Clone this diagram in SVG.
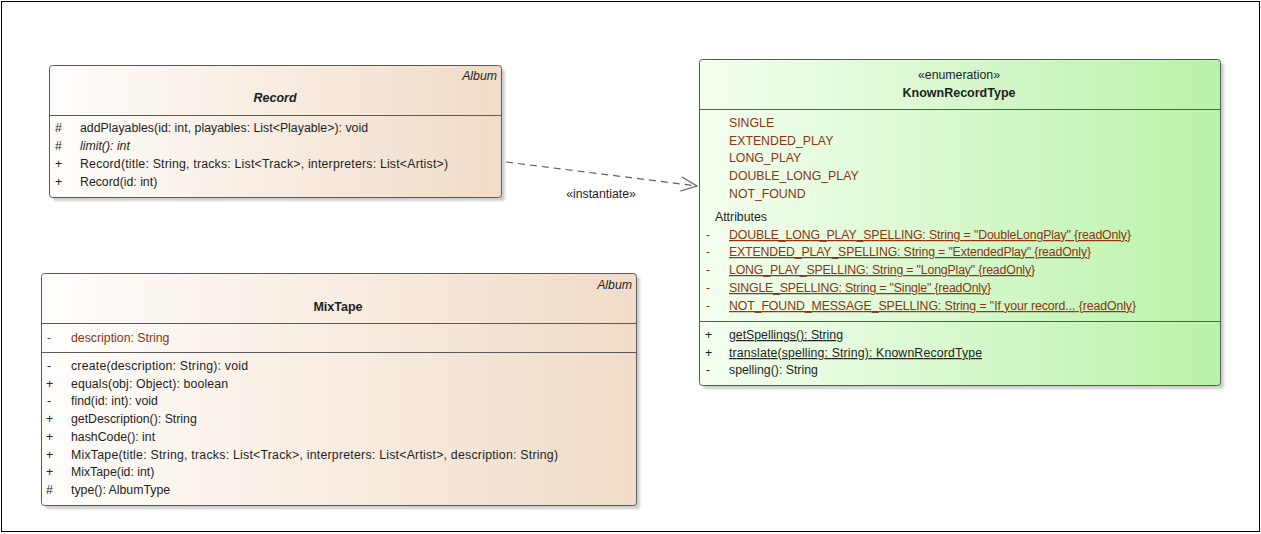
<svg xmlns="http://www.w3.org/2000/svg" width="1261" height="534" viewBox="0 0 1261 534">
  <defs>
    <linearGradient id="albumFill" x1="0" y1="0" x2="1" y2="0">
      <stop offset="0" stop-color="#fffdfb"/>
      <stop offset="1" stop-color="#f0dcc8"/>
    </linearGradient>
    <linearGradient id="enumFill" x1="0" y1="0" x2="1" y2="0">
      <stop offset="0" stop-color="#f4fff0"/>
      <stop offset="1" stop-color="#b9f2a9"/>
    </linearGradient>
    <filter id="soft" x="-5%" y="-5%" width="110%" height="110%">
      <feGaussianBlur stdDeviation="1"/>
    </filter>
    <marker id="openArrow" markerWidth="20" markerHeight="16" refX="18" refY="8" orient="auto" markerUnits="userSpaceOnUse">
      <path d="M2,1 L18,8 L2,15" fill="none" stroke="#606060" stroke-width="1.2"/>
    </marker>
  </defs>
  <style>
    text { font-family: "Liberation Sans", Arial, sans-serif; font-size: 12.3px; fill: #1e1e1e; }
    .shadow { fill: #a8a8a8; opacity: 0.55; filter: url(#soft); }
    .box { stroke: #5a5a5a; stroke-width: 1; }
    .sep { stroke: #5a5a5a; stroke-width: 1; }
    .attr { fill: #8a3510; }
    .static { text-decoration: underline; }
    .title { font-weight: bold; font-size: 12.5px; }
    .ital { font-style: italic; }
    .mid { text-anchor: middle; }
    .end { text-anchor: end; }
    .edge { stroke: #606060; stroke-width: 1.2; stroke-dasharray: 7 5; fill: none; }
  </style>

  <rect x="1.5" y="1.5" width="1258" height="530" fill="#ffffff" stroke="#000000" stroke-width="1"/>

  <!-- connectors -->
  <g id="connectors">
    <line class="edge" x1="506" y1="162" x2="697" y2="186" marker-end="url(#openArrow)"/>
    <text class="mid" x="601" y="198">«instantiate»</text>
  </g>

  <!-- Record -->
  <g id="Record">
    <rect class="shadow" x="53" y="69" width="452" height="132" rx="3"/>
    <rect class="box" x="49.5" y="65.5" width="452" height="132" rx="3" fill="url(#albumFill)"/>
    <line class="sep" x1="49.5" y1="115.5" x2="501.5" y2="115.5"/>
    <text class="ital end" x="497" y="80">Album</text>
    <text class="title ital mid" x="275" y="102">Record</text>
    <text x="55" y="132">#</text><text x="80" y="132" textLength="288" lengthAdjust="spacing">addPlayables(id: int, playables: List&lt;Playable&gt;): void</text>
    <text x="55" y="150">#</text><text class="ital" x="80" y="150">limit(): int</text>
    <text x="55" y="168">+</text><text x="80" y="168" textLength="368" lengthAdjust="spacing">Record(title: String, tracks: List&lt;Track&gt;, interpreters: List&lt;Artist&gt;)</text>
    <text x="55" y="186">+</text><text x="80" y="186">Record(id: int)</text>
  </g>

  <!-- MixTape -->
  <g id="MixTape">
    <rect class="shadow" x="45" y="277" width="595" height="232" rx="3"/>
    <rect class="box" x="41.5" y="273.5" width="595" height="232" rx="3" fill="url(#albumFill)"/>
    <line class="sep" x1="41.5" y1="323.5" x2="636.5" y2="323.5"/>
    <line class="sep" x1="41.5" y1="352.5" x2="636.5" y2="352.5"/>
    <text class="ital end" x="632" y="289">Album</text>
    <text class="title mid" x="338" y="311">MixTape</text>
    <text class="attr" x="47" y="342">-</text><text class="attr" x="71" y="342">description: String</text>
    <text x="47" y="370">-</text><text x="71" y="370" textLength="177" lengthAdjust="spacing">create(description: String): void</text>
    <text x="46" y="388">+</text><text x="71" y="388" textLength="157" lengthAdjust="spacing">equals(obj: Object): boolean</text>
    <text x="47" y="405">-</text><text x="71" y="405">find(id: int): void</text>
    <text x="46" y="423">+</text><text x="71" y="423">getDescription(): String</text>
    <text x="46" y="441">+</text><text x="71" y="441">hashCode(): int</text>
    <text x="46" y="459">+</text><text x="71" y="459" textLength="487" lengthAdjust="spacing">MixTape(title: String, tracks: List&lt;Track&gt;, interpreters: List&lt;Artist&gt;, description: String)</text>
    <text x="46" y="476">+</text><text x="71" y="476">MixTape(id: int)</text>
    <text x="46" y="494">#</text><text x="71" y="494">type(): AlbumType</text>
  </g>

  <!-- KnownRecordType -->
  <g id="KnownRecordType">
    <rect class="shadow" x="703" y="63" width="521" height="326" rx="3"/>
    <rect class="box" x="699.5" y="59.5" width="521" height="326" rx="3" fill="url(#enumFill)"/>
    <line class="sep" x1="699.5" y1="109.5" x2="1220.5" y2="109.5"/>
    <line class="sep" x1="699.5" y1="321.5" x2="1220.5" y2="321.5"/>
    <text class="mid" x="959" y="79">«enumeration»</text>
    <text class="title mid" x="959" y="97">KnownRecordType</text>
    <text class="attr" x="729" y="127">SINGLE</text>
    <text class="attr" x="729" y="145">EXTENDED_PLAY</text>
    <text class="attr" x="729" y="162">LONG_PLAY</text>
    <text class="attr" x="729" y="180">DOUBLE_LONG_PLAY</text>
    <text class="attr" x="729" y="198">NOT_FOUND</text>
    <text x="715" y="221">Attributes</text>
    <text class="attr" x="706" y="239">-</text><text class="attr static" x="729" y="239" textLength="402" lengthAdjust="spacing">DOUBLE_LONG_PLAY_SPELLING: String = "DoubleLongPlay" {readOnly}</text>
    <text class="attr" x="706" y="256">-</text><text class="attr static" x="729" y="256" textLength="362" lengthAdjust="spacing">EXTENDED_PLAY_SPELLING: String = "ExtendedPlay" {readOnly}</text>
    <text class="attr" x="706" y="274">-</text><text class="attr static" x="729" y="274" textLength="306" lengthAdjust="spacing">LONG_PLAY_SPELLING: String = "LongPlay" {readOnly}</text>
    <text class="attr" x="706" y="292">-</text><text class="attr static" x="729" y="292" textLength="262" lengthAdjust="spacing">SINGLE_SPELLING: String = "Single" {readOnly}</text>
    <text class="attr" x="706" y="310">-</text><text class="attr static" x="729" y="310" textLength="407" lengthAdjust="spacing">NOT_FOUND_MESSAGE_SPELLING: String = "If your record... {readOnly}</text>
    <text x="705" y="339">+</text><text class="static" x="729" y="339" textLength="114" lengthAdjust="spacing">getSpellings(): String</text>
    <text x="705" y="357">+</text><text class="static" x="729" y="357" textLength="253" lengthAdjust="spacing">translate(spelling: String): KnownRecordType</text>
    <text x="706" y="374">-</text><text x="729" y="374">spelling(): String</text>
  </g>
</svg>
